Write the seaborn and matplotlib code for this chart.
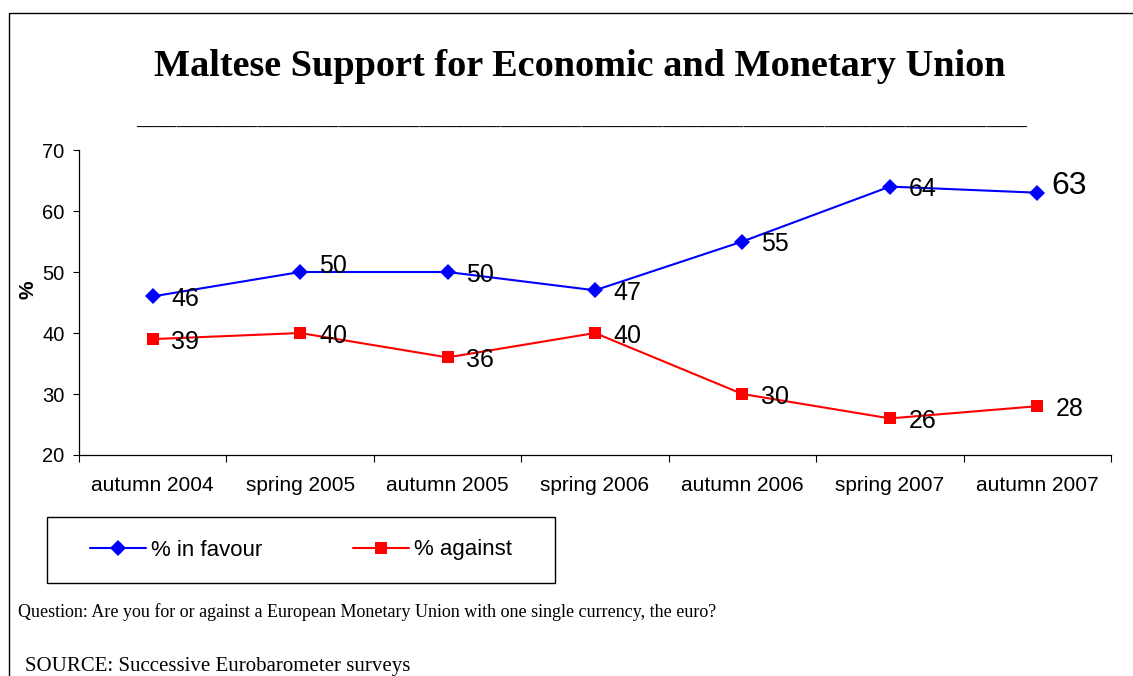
import numpy as np
import pandas as pd
import matplotlib
matplotlib.use("Agg")
import matplotlib.pyplot as plt
import seaborn as sns
from matplotlib.patches import Rectangle

sns.set_style("ticks")
plt.rcParams['font.family'] = ['Liberation Sans', 'DejaVu Sans']
plt.rcParams['text.color'] = 'black'
plt.rcParams['xtick.color'] = 'black'
plt.rcParams['ytick.color'] = 'black'
plt.rcParams['axes.labelcolor'] = 'black'

waves = ["autumn 2004", "spring 2005", "autumn 2005", "spring 2006",
         "autumn 2006", "spring 2007", "autumn 2007"]
in_favour = [46, 50, 50, 47, 55, 64, 63]
against = [39, 40, 36, 40, 30, 26, 28]
series_names = ["% in favour", "% against"]
y_ticks = [20, 30, 40, 50, 60, 70]

# label tweaks (points), roughly how the original places them
fav_dy = [0, 6, 0, 0, 0, 0, 7]
fav_dx = [13.5, 13.5, 13.5, 13.5, 13.5, 13.5, 10]
fav_fs = [18, 18, 18, 18, 18, 18, 23]
ag_dy = [0, 0, 0, 0, 0, 0, 0]

df = pd.DataFrame({
    "wave": waves * 2,
    "value": in_favour + against,
    "series": [series_names[0]] * len(waves) + [series_names[1]] * len(waves),
})

fig = plt.figure(figsize=(11.33, 6.76), dpi=100)
ax = fig.add_axes([79 / 1133, 1 - 455 / 676, (1111 - 79) / 1133, (455 - 150) / 676])

colors = {series_names[0]: "#0000FF", series_names[1]: "#FF0000"}
markers = {series_names[0]: "D", series_names[1]: "s"}
sns.lineplot(data=df, x="wave", y="value", hue="series", style="series",
             palette=colors, markers=markers, dashes=False, sort=False,
             linewidth=1.5, markersize=8.5, markeredgewidth=0, ax=ax)

for i, v in enumerate(in_favour):
    ax.annotate(str(v), (i, v), xytext=(fav_dx[i], fav_dy[i]), textcoords="offset points",
                ha="left", va="center_baseline", fontsize=fav_fs[i], color="black")
for i, v in enumerate(against):
    ax.annotate(str(v), (i, v), xytext=(13.5, ag_dy[i]), textcoords="offset points",
                ha="left", va="center_baseline", fontsize=18, color="black")

ax.set_ylim(20, 70)
ax.set_yticks(y_ticks)
ax.set_xlim(-0.5, len(waves) - 0.5)
ax.set_xticks(range(len(waves)))
ax.set_xticklabels(waves)
ax.set_xticks(np.arange(-0.5, len(waves), 1), minor=True)
ax.tick_params(axis="x", which="major", length=0, pad=15, labelsize=15)
ax.tick_params(axis="x", which="minor", length=5, width=0.8, color="black", direction="out")
ax.tick_params(axis="y", length=4.3, width=0.8, color="black", direction="out",
               pad=6, labelsize=14.5)
ax.set_xlabel("")
ax.set_ylabel("")
for s in ["top", "right"]:
    ax.spines[s].set_visible(False)
for s in ["left", "bottom"]:
    ax.spines[s].set_color("black")
    ax.spines[s].set_linewidth(0.9)

handles, labels = ax.get_legend_handles_labels()
ax.get_legend().remove()
for h in handles:
    h.set_markersize(8.5)
    h.set_markeredgewidth(0)
    h.set_linewidth(1.5)
fig.legend(handles, labels, ncol=2, frameon=False, loc="center",
           bbox_to_anchor=(301 / 1133, 1 - 550 / 676), fontsize=16,
           handlelength=2.5, handletextpad=0.22, columnspacing=4.1)
fig.patches.append(Rectangle((47 / 1133, 1 - 583 / 676), 508 / 1133, 66 / 676,
                             transform=fig.transFigure, fill=False,
                             edgecolor="black", linewidth=1))

# outer frame
fig.patches.append(Rectangle((9 / 1133, -0.05), 1.1, 1 - 13 / 676 + 0.05,
                             transform=fig.transFigure, fill=False,
                             edgecolor="black", linewidth=1))

fig.text(580 / 1133, 1 - 66 / 676, "Maltese Support for Economic and Monetary Union",
         family="Liberation Serif", fontweight="bold", fontsize=27.5,
         ha="center", va="center")
fig.text(582 / 1133, 1 - 125 / 676, "_" * 88, family="Liberation Serif",
         fontweight="bold", fontsize=14.5, ha="center", va="baseline")
fig.text(28 / 1133, 1 - 290 / 676, "%", rotation=90, fontweight="bold",
         fontsize=15, ha="center", va="center")
fig.text(18 / 1133, 1 - 612 / 676,
         "Question: Are you for or against a European Monetary Union with one single currency, the euro?",
         family="Liberation Serif", fontsize=13, ha="left", va="center")
fig.text(25 / 1133, 1 - 671 / 676, "SOURCE: Successive Eurobarometer surveys",
         family="Liberation Serif", fontsize=15, ha="left", va="baseline")

fig.savefig("out.png", dpi=100)
